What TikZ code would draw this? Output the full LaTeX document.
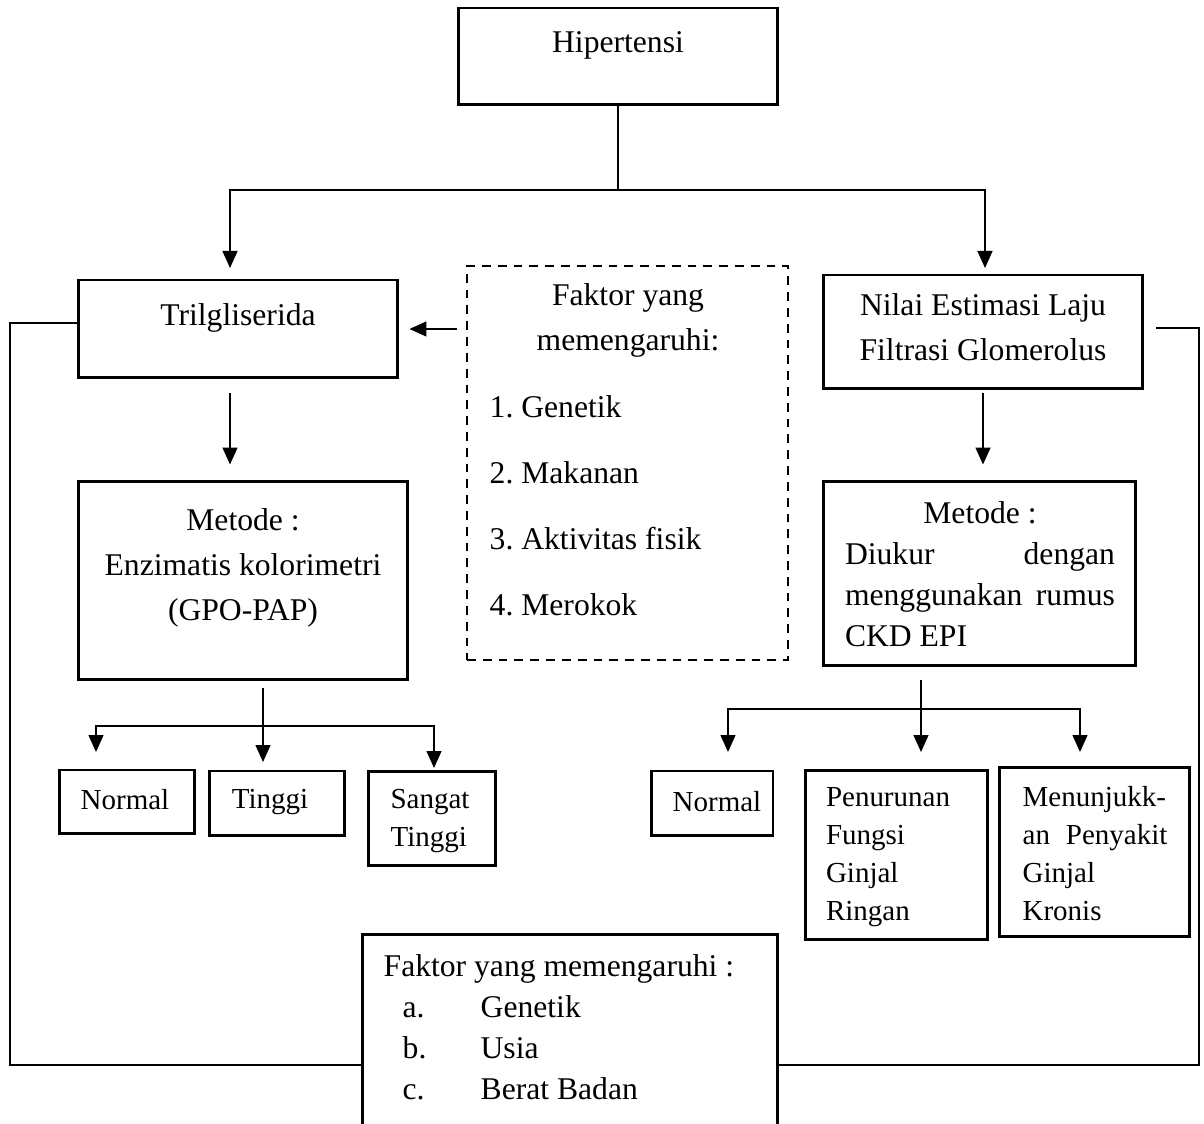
\documentclass[tikz,border=0pt]{standalone}
\usepackage{fontspec}
\setmainfont{Liberation Serif}
\usetikzlibrary{arrows.meta}
\setlength{\parindent}{0pt}
\frenchspacing

\begin{document}
\begin{tikzpicture}[x=0.02cm, y=-0.02cm, line width=0.8pt, >={Triangle[length=0.34cm,width=0.3cm]}]
	\tikzstyle{box}=[draw, line width=1.7pt, inner sep=0pt]
	\tikzstyle{dbox}=[draw, line width=1.3pt, dash pattern=on 5pt off 4pt, inner sep=0pt]
	\tikzstyle{txt}=[inner sep=0pt, align=center, font=\fontsize{18}{25.6}\selectfont]
	\tikzstyle{stxt}=[inner sep=0pt, align=left, font=\fontsize{16.5}{21.6}\selectfont]

	\useasboundingbox (0,0) rectangle (1204,1124);
	\clip (0,0) rectangle (1204,1124);

	% boxes
	\node[box, minimum width=6.4cm, minimum height=1.94cm]  (hip)   at (618,56.5)  {};
	\node[box, minimum width=6.4cm, minimum height=1.96cm]  (tri)   at (238,329)   {};
	\node[dbox, minimum width=6.42cm, minimum height=7.88cm] (fak)  at (627.5,463)  {};
	\node[box, minimum width=6.4cm, minimum height=2.28cm]  (egfr)  at (983,332)   {};
	\node[box, minimum width=6.6cm, minimum height=3.98cm]  (met1)  at (243,580.5) {};
	\node[box, minimum width=6.26cm, minimum height=3.7cm]  (met2)  at (979.5,573.5) {};
	\node[box, minimum width=2.72cm, minimum height=1.28cm] (n1)    at (127,802)   {};
	\node[box, minimum width=2.72cm, minimum height=1.3cm]  (t1)    at (277,803.5) {};
	\node[box, minimum width=2.56cm, minimum height=1.9cm]  (st1)   at (432,818.5) {};
	\node[box, minimum width=2.44cm, minimum height=1.3cm]  (n2)    at (712,803.5) {};
	\node[box, minimum width=3.66cm, minimum height=3.4cm]  (pen)   at (896.5,855) {};
	\node[box, minimum width=3.82cm, minimum height=3.4cm]  (men)   at (1094.5,852) {};
	\node[box, minimum width=8.32cm, minimum height=4.12cm] (fak2)  at (570,1037)  {};

	% texts
	\node[txt] (hiptext)  at (618,45)   {Hipertensi};
	\node[txt] (tritext)  at (238,318)  {Trilgliserida};
	\node[txt] (faktext)  at (628,320)  {Faktor yang\\memengaruhi:};
	\node[txt, align=left, anchor=west, font=\fontsize{18}{37.6}\selectfont] (faklist) at (489,506)
		{1. Genetik\\2. Makanan\\3. Aktivitas fisik\\4. Merokok};
	\node[txt] (egfrtext) at (983,327)  {Nilai Estimasi Laju\\Filtrasi Glomerolus};
	\node[txt] (met1text) at (243,568)  {Metode :\\Enzimatis kolorimetri\\(GPO-PAP)};
	\node[txt, text width=5.4cm, align=justify, font=\fontsize{18}{23.3}\selectfont] (met2text) at (980,574.5)
		{\hfill Metode :\hfill\null\\Diukur\hfill dengan\\menggunakan\hfill rumus\\CKD EPI};
	\node[stxt] (n1text)  at (125,800)  {Normal};
	\node[stxt] (t1text)  at (270,802)  {Tinggi};
	\node[stxt] (st1text) at (430,821)  {Sangat\\Tinggi};
	\node[stxt] (n2text)  at (717,802)  {Normal};
	\node[stxt] (pentext) at (888,857)  {Penurunan\\Fungsi\\Ginjal\\Ringan};
	\node[stxt] (mentext) at (1095,854) {Menunjukk-\\an\hspace{0.3em} Penyakit\\Ginjal\\Kronis};
	\node[txt, align=left, anchor=north west, font=\fontsize{18}{23.3}\selectfont] (fak2text) at (383,954)
		{Faktor yang memengaruhi :\\
		\hspace*{0.38cm}\makebox[1.56cm][l]{a.}Genetik\\
		\hspace*{0.38cm}\makebox[1.56cm][l]{b.}Usia\\
		\hspace*{0.38cm}\makebox[1.56cm][l]{c.}Berat Badan};

	% connectors
	\coordinate (j1) at (618,190);
	\coordinate (ta) at (230,268);
	\coordinate (tb) at (985,268);
	\draw (hip.south) -- (j1);
	\draw[->] (j1) -| (ta);
	\draw[->] (j1) -| (tb);
	\draw[->, shorten <=0.18cm, shorten >=0.2cm] (fak.west |- tri) -- (tri.east);
	\draw[->, shorten <=0.28cm, shorten >=0.3cm] ([xshift=-0.16cm]tri.south) -- ([xshift=-0.16cm]tri.south |- met1.north);
	\draw[->, shorten <=0.06cm, shorten >=0.3cm] (egfr.south) -- (egfr.south |- met2.north);

	\coordinate (l0) at (263,688);
	\coordinate (lh) at (263,726);
	\coordinate (lt) at (263,762);
	\coordinate (la) at (96,752);
	\coordinate (lc) at (434,768);
	\draw[->] (l0) -- (lt);
	\draw[->] (lh) -| (la);
	\draw[->] (lh) -| (lc);

	\coordinate (r0) at (921,680);
	\coordinate (rh) at (921,709);
	\coordinate (rt) at (921,752);
	\coordinate (ra) at (728,752);
	\coordinate (rc) at (1080,752);
	\draw[->] (r0) -- (rt);
	\draw[->] (rh) -| (ra);
	\draw[->] (rh) -| (rc);

	\coordinate (lb) at (10,1065);
	\coordinate (rb) at (1199,1065);
	\draw ([yshift=0.12cm]tri.west) -| (lb) -- (lb -| fak2.west);
	\draw ([xshift=0.24cm,yshift=0.08cm]egfr.east) -| (rb) -- (rb -| fak2.east);
\end{tikzpicture}
\end{document}
